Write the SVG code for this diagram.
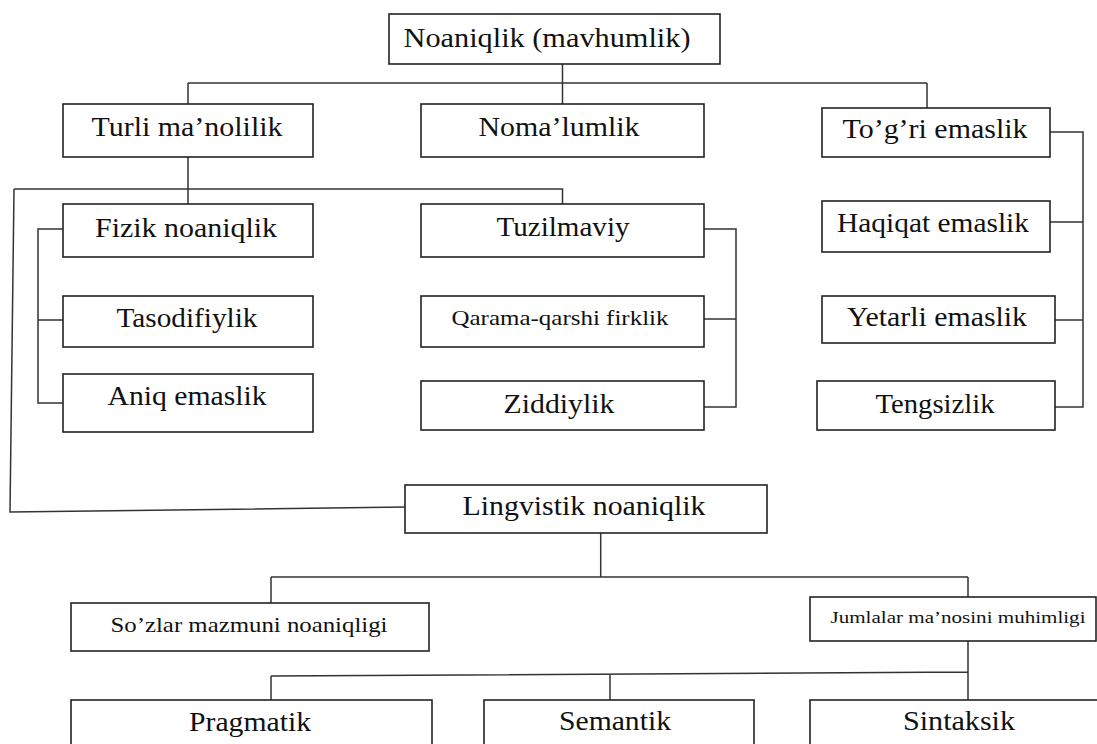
<svg xmlns="http://www.w3.org/2000/svg" width="1097" height="744" viewBox="0 0 1097 744">
<style>
.box{fill:#fff;stroke:#222;stroke-width:1.6}
.t{font-family:"Liberation Serif","Times New Roman",serif;font-size:28px;fill:#111;text-anchor:middle}
.s{font-size:22px}
.xs{font-size:17px}
.c{fill:none;stroke:#333;stroke-width:1.5}
</style>
<rect width="1097" height="744" fill="#fff"/>
<g id="connectors" class="c">
<path d="M562.5,64V83M188,83H927M188,83V104M562.5,83V104M927,83V108"/>
<path d="M188,157V204M14,189H562.5V204"/>
<path d="M14,189L10,512L405,507"/>
<path d="M63,229H38V403H63M38,320H63"/>
<path d="M704,229H736V407H704M704,319H736"/>
<path d="M1050,132H1083V407H1055M1050,222H1083M1055,320H1083"/>
<path d="M600.7,533V577M271,577H968M271,577V603M968,577V597"/>
<path d="M968,641V700M271,676L968,672M271,676V700M610,674V700"/>
</g>
<g id="n-root"><rect class="box" x="389" y="14" width="331" height="50"/><text class="t" x="547" y="47" textLength="287" lengthAdjust="spacingAndGlyphs">Noaniqlik (mavhumlik)</text></g>
<g id="n-turli"><rect class="box" x="63" y="104" width="250" height="53"/><text class="t" x="187" y="136" textLength="191" lengthAdjust="spacingAndGlyphs">Turli ma’nolilik</text></g>
<g id="n-nomalumlik"><rect class="box" x="421" y="104" width="283" height="53"/><text class="t" x="559" y="136" textLength="161" lengthAdjust="spacingAndGlyphs">Noma’lumlik</text></g>
<g id="n-togri"><rect class="box" x="822" y="108" width="228" height="49"/><text class="t" x="935" y="138" textLength="185" lengthAdjust="spacingAndGlyphs">To’g’ri emaslik</text></g>
<g id="n-fizik"><rect class="box" x="63" y="204" width="250" height="53"/><text class="t" x="186" y="237" textLength="182" lengthAdjust="spacingAndGlyphs">Fizik noaniqlik</text></g>
<g id="n-tuzilmaviy"><rect class="box" x="421" y="204" width="283" height="53"/><text class="t" x="563" y="236" textLength="133" lengthAdjust="spacingAndGlyphs">Tuzilmaviy</text></g>
<g id="n-haqiqat"><rect class="box" x="822" y="201" width="228" height="51"/><text class="t" x="933" y="232" textLength="192" lengthAdjust="spacingAndGlyphs">Haqiqat emaslik</text></g>
<g id="n-tasodifiylik"><rect class="box" x="63" y="296" width="250" height="51"/><text class="t" x="187" y="327" textLength="141" lengthAdjust="spacingAndGlyphs">Tasodifiylik</text></g>
<g id="n-qarama"><rect class="box" x="421" y="296" width="283" height="51"/><text class="t s" x="560" y="325" textLength="217" lengthAdjust="spacingAndGlyphs">Qarama-qarshi firklik</text></g>
<g id="n-yetarli"><rect class="box" x="822" y="296" width="233" height="47"/><text class="t" x="937" y="326" textLength="180" lengthAdjust="spacingAndGlyphs">Yetarli emaslik</text></g>
<g id="n-aniq"><rect class="box" x="63" y="374" width="250" height="58"/><text class="t" x="187" y="405" textLength="159" lengthAdjust="spacingAndGlyphs">Aniq emaslik</text></g>
<g id="n-ziddiylik"><rect class="box" x="421" y="381" width="283" height="49"/><text class="t" x="559" y="413" textLength="111" lengthAdjust="spacingAndGlyphs">Ziddiylik</text></g>
<g id="n-tengsizlik"><rect class="box" x="817" y="381" width="238" height="49"/><text class="t" x="935" y="413" textLength="119" lengthAdjust="spacingAndGlyphs">Tengsizlik</text></g>
<g id="n-lingvistik"><rect class="box" x="405" y="485" width="362" height="48"/><text class="t" x="584" y="515" textLength="243" lengthAdjust="spacingAndGlyphs">Lingvistik noaniqlik</text></g>
<g id="n-sozlar"><rect class="box" x="71" y="603" width="358" height="48"/><text class="t s" x="249" y="632" textLength="277" lengthAdjust="spacingAndGlyphs">So’zlar mazmuni noaniqligi</text></g>
<g id="n-jumlalar"><rect class="box" x="810" y="597" width="286" height="44"/><text class="t xs" x="958" y="623" textLength="255" lengthAdjust="spacingAndGlyphs">Jumlalar ma’nosini muhimligi</text></g>
<g id="n-pragmatik"><rect class="box" x="71" y="700" width="361" height="60"/><text class="t" x="250" y="731" textLength="122" lengthAdjust="spacingAndGlyphs">Pragmatik</text></g>
<g id="n-semantik"><rect class="box" x="484" y="700" width="270" height="60"/><text class="t" x="615" y="730" textLength="112" lengthAdjust="spacingAndGlyphs">Semantik</text></g>
<g id="n-sintaksik"><rect class="box" x="810" y="700" width="290" height="60"/><text class="t" x="959" y="730" textLength="112" lengthAdjust="spacingAndGlyphs">Sintaksik</text></g>
</svg>
